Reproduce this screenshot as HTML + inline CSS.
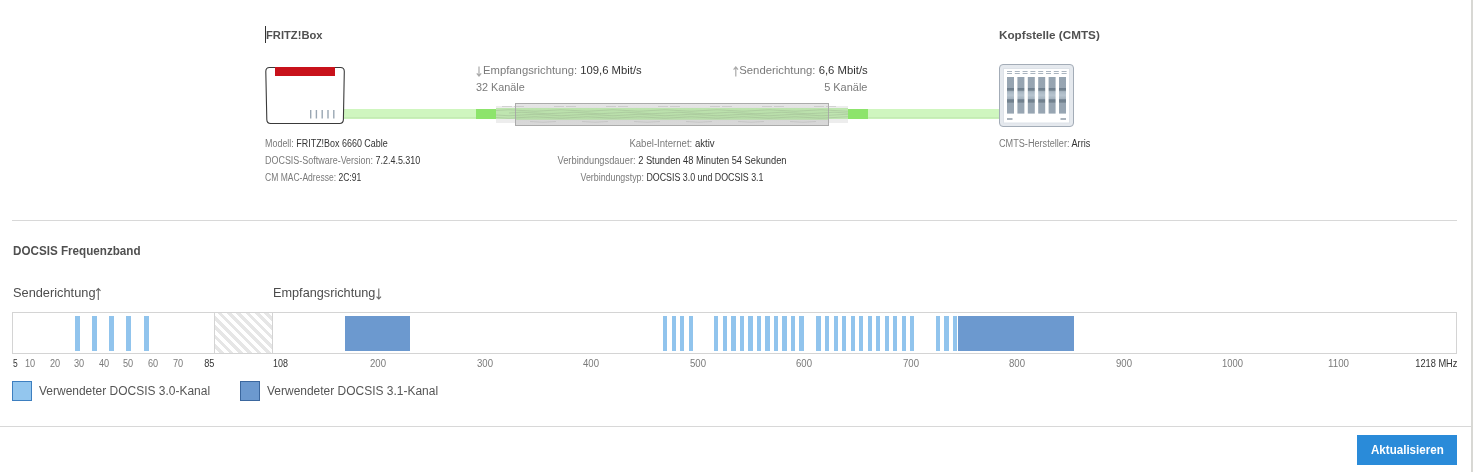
<!DOCTYPE html>
<html><head><meta charset="utf-8">
<style>
html,body{margin:0;padding:0;background:#fff;width:1473px;height:472px;overflow:hidden;position:relative;font-family:"Liberation Sans",sans-serif;color:#555;}
.a{position:absolute;white-space:nowrap;line-height:1;-webkit-font-smoothing:antialiased;}
body{will-change:transform;}
</style></head>
<body>
<svg class="a" style="left:0;top:0" width="1473" height="140" viewBox="0 0 1473 140">
<defs>
<linearGradient id="cg" x1="0" y1="0" x2="0" y2="1">
<stop offset="0" stop-color="#e6e6e6"/><stop offset="0.2" stop-color="#e2e2e2"/><stop offset="0.22" stop-color="#bde3ae"/><stop offset="0.72" stop-color="#b7dca8"/><stop offset="0.75" stop-color="#d6d6d6"/><stop offset="1" stop-color="#d9d9d9"/>
</linearGradient>
<linearGradient id="cb" x1="0" y1="0" x2="0" y2="1">
<stop offset="0" stop-color="#96a4b1"/><stop offset="0.29" stop-color="#97a5b2"/><stop offset="0.31" stop-color="#6f7f8e"/><stop offset="0.36" stop-color="#74838f"/><stop offset="0.4" stop-color="#a9b7c3"/><stop offset="0.5" stop-color="#b7c4cf"/><stop offset="0.6" stop-color="#a3b1bd"/><stop offset="0.62" stop-color="#6f7f8e"/><stop offset="0.69" stop-color="#74838f"/><stop offset="0.71" stop-color="#97a5b2"/><stop offset="1" stop-color="#97a5b2"/>
</linearGradient>
</defs>
<rect x="344" y="109" width="132" height="10" fill="#cff6bf"/>
<rect x="344" y="117" width="132" height="1.5" fill="#c4ebb4"/>
<rect x="476" y="109" width="20" height="10" fill="#8de46c"/>
<rect x="848" y="109" width="20" height="10" fill="#8de46c"/>
<rect x="868" y="109" width="132" height="10" fill="#cff6bf"/>
<rect x="868" y="117" width="132" height="1.5" fill="#c4ebb4"/>
<rect x="496" y="106" width="352" height="17" fill="#ededed"/>
<rect x="496" y="108" width="352" height="11" fill="#bfe5b0"/>
<rect x="515.5" y="103.5" width="313" height="22" fill="url(#cg)" stroke="#ababab" stroke-width="1"/>
<clipPath id="cc"><rect x="496" y="103" width="352" height="23"/></clipPath>
<g clip-path="url(#cc)">
<g fill="none" stroke="#9cb391" stroke-width="0.8" opacity="0.55">
<path d="M496 110.5 q13 -1.5 26 0 t26 0 t26 0 t26 0 t26 0 t26 0 t26 0 t26 0 t26 0 t26 0 t26 0 t26 0 t26 0 t26 0"/>
<path d="M496 117.5 q13 1.5 26 0 t26 0 t26 0 t26 0 t26 0 t26 0 t26 0 t26 0 t26 0 t26 0 t26 0 t26 0 t26 0 t26 0"/>
<path d="M509 113 q13 -1.5 26 0 t26 0 t26 0 t26 0 t26 0 t26 0 t26 0 t26 0 t26 0 t26 0 t26 0 t26 0 t26 0 t13 0"/>
<path d="M496 115 q13 1.5 26 0 t26 0 t26 0 t26 0 t26 0 t26 0 t26 0 t26 0 t26 0 t26 0 t26 0 t26 0 t26 0 t26 0"/>
</g>
<g fill="none" stroke="#b4b4b4" stroke-width="0.8" opacity="0.6">
<path d="M502 106.5 h10 M514 106.5 h10 M554 106.5 h10 M566 106.5 h10 M606 106.5 h10 M618 106.5 h10 M658 106.5 h10 M670 106.5 h10 M710 106.5 h10 M722 106.5 h10 M762 106.5 h10 M774 106.5 h10 M814 106.5 h10 M826 106.5 h10"/>
<path d="M530 121.5 q13 1.5 26 0 M582 121.5 q13 1.5 26 0 M634 121.5 q13 1.5 26 0 M686 121.5 q13 1.5 26 0 M738 121.5 q13 1.5 26 0 M790 121.5 q13 1.5 26 0"/>
</g>
</g>
<path d="M269.5 67.5 H340.5 Q344.3 67.5 344.3 71.5 L343.4 119.5 Q343.3 123.5 339.5 123.5 H270.7 Q266.9 123.5 266.8 119.5 L265.8 71.5 Q265.8 67.5 269.5 67.5 Z" fill="#fff" stroke="#3a3a3a" stroke-width="1.1"/>
<rect x="275" y="67" width="60" height="9" fill="#c8121b"/>
<path d="M310.7 110 V118.5 M316.4 110 V118.5 M322.2 110 V118.5 M328 110 V118.5 M333.8 110 V118.5" stroke="#9aa7b3" stroke-width="1.4"/>
<rect x="999.5" y="64.5" width="74" height="62" rx="3.5" fill="#e5e9ee" stroke="#a3acb7" stroke-width="1"/>
<rect x="1003.5" y="68.5" width="66" height="54.5" fill="#fff" stroke="#dde2e8" stroke-width="1"/>
<g stroke="#a9b4bf" stroke-width="1">
<path d="M1007 71.5 h5 M1014.8 71.5 h5 M1022.6 71.5 h5 M1030.4 71.5 h5 M1038.2 71.5 h5 M1046 71.5 h5 M1053.8 71.5 h5 M1061.6 71.5 h5"/>
<path d="M1007 73.5 h5 M1014.8 73.5 h5 M1022.6 73.5 h5 M1030.4 73.5 h5 M1038.2 73.5 h5 M1046 73.5 h5 M1053.8 73.5 h5 M1061.6 73.5 h5"/>
</g>
<g fill="url(#cb)">
<rect x="1007" y="77" width="7" height="36.6"/>
<rect x="1017.4" y="77" width="7" height="36.6"/>
<rect x="1027.8" y="77" width="7" height="36.6"/>
<rect x="1038.2" y="77" width="7" height="36.6"/>
<rect x="1048.6" y="77" width="7" height="36.6"/>
<rect x="1059" y="77" width="7" height="36.6"/>
</g>
<path d="M1007 119 h5.5 M1060.5 119 h5.5" stroke="#8e9aa6" stroke-width="1.3"/>
</svg>

<div class="a" style="left:265px;top:26px;width:1px;height:17px;background:#333"></div>
<svg class="a" style="left:0;top:0" width="1473" height="310"><g stroke="#aaa" fill="none" stroke-width="1.2"><path d="M479 66.5 V76 M476.8 73.3 L479 76 L481.2 73.3"/><path d="M735.8 76.5 V67 M733.6 69.7 L735.8 67 L738 69.7"/></g><g stroke="#666" fill="none" stroke-width="1.1"><path d="M98.3 300 V288.5 M96.1 290.9 L98.3 288.5 L100.5 290.9"/><path d="M378.8 288.5 V299 M376.6 296.6 L378.8 299 L381 296.6"/></g></svg>
<div class="a" style="left:12px;top:220px;width:1445px;height:1px;background:#d8d8d8"></div>
<div class="a" style="left:0px;top:426px;width:1471px;height:1px;background:#d8d8d8"></div>
<div class="a" style="left:12px;top:312px;width:1443px;height:40px;border:1px solid #d4d4d4"></div>
<div class="a" style="left:214px;top:313px;width:57px;height:40px;border-left:1px solid #d4d4d4;border-right:1px solid #d4d4d4;background:repeating-linear-gradient(45deg,#fff 0 3.3px,#e6e6e6 3.3px 6.6px)"></div>
<div class="a" style="left:75px;top:316px;width:5px;height:35px;background:#91c4ed"></div>
<div class="a" style="left:92px;top:316px;width:5px;height:35px;background:#91c4ed"></div>
<div class="a" style="left:109px;top:316px;width:5px;height:35px;background:#91c4ed"></div>
<div class="a" style="left:126px;top:316px;width:5px;height:35px;background:#91c4ed"></div>
<div class="a" style="left:144px;top:316px;width:5px;height:35px;background:#91c4ed"></div>
<div class="a" style="left:663px;top:316px;width:4px;height:35px;background:#91c4ed"></div>
<div class="a" style="left:672px;top:316px;width:4px;height:35px;background:#91c4ed"></div>
<div class="a" style="left:680px;top:316px;width:4px;height:35px;background:#91c4ed"></div>
<div class="a" style="left:689px;top:316px;width:4px;height:35px;background:#91c4ed"></div>
<div class="a" style="left:714px;top:316px;width:4px;height:35px;background:#91c4ed"></div>
<div class="a" style="left:723px;top:316px;width:4px;height:35px;background:#91c4ed"></div>
<div class="a" style="left:731px;top:316px;width:5px;height:35px;background:#91c4ed"></div>
<div class="a" style="left:740px;top:316px;width:4px;height:35px;background:#91c4ed"></div>
<div class="a" style="left:748px;top:316px;width:5px;height:35px;background:#91c4ed"></div>
<div class="a" style="left:757px;top:316px;width:4px;height:35px;background:#91c4ed"></div>
<div class="a" style="left:765px;top:316px;width:5px;height:35px;background:#91c4ed"></div>
<div class="a" style="left:774px;top:316px;width:4px;height:35px;background:#91c4ed"></div>
<div class="a" style="left:782px;top:316px;width:5px;height:35px;background:#91c4ed"></div>
<div class="a" style="left:791px;top:316px;width:4px;height:35px;background:#91c4ed"></div>
<div class="a" style="left:799px;top:316px;width:5px;height:35px;background:#91c4ed"></div>
<div class="a" style="left:816px;top:316px;width:5px;height:35px;background:#91c4ed"></div>
<div class="a" style="left:825px;top:316px;width:4px;height:35px;background:#91c4ed"></div>
<div class="a" style="left:834px;top:316px;width:4px;height:35px;background:#91c4ed"></div>
<div class="a" style="left:842px;top:316px;width:4px;height:35px;background:#91c4ed"></div>
<div class="a" style="left:851px;top:316px;width:4px;height:35px;background:#91c4ed"></div>
<div class="a" style="left:859px;top:316px;width:4px;height:35px;background:#91c4ed"></div>
<div class="a" style="left:868px;top:316px;width:4px;height:35px;background:#91c4ed"></div>
<div class="a" style="left:876px;top:316px;width:4px;height:35px;background:#91c4ed"></div>
<div class="a" style="left:885px;top:316px;width:4px;height:35px;background:#91c4ed"></div>
<div class="a" style="left:893px;top:316px;width:4px;height:35px;background:#91c4ed"></div>
<div class="a" style="left:902px;top:316px;width:4px;height:35px;background:#91c4ed"></div>
<div class="a" style="left:910px;top:316px;width:4px;height:35px;background:#91c4ed"></div>
<div class="a" style="left:936px;top:316px;width:4px;height:35px;background:#91c4ed"></div>
<div class="a" style="left:944px;top:316px;width:5px;height:35px;background:#91c4ed"></div>
<div class="a" style="left:953px;top:316px;width:4px;height:35px;background:#91c4ed"></div>
<div class="a" style="left:345px;top:316px;width:65px;height:35px;background:#6c99cf"></div>
<div class="a" style="left:958px;top:316px;width:116px;height:35px;background:#6c99cf"></div>
<div class="a" style="left:12px;top:381px;width:18px;height:18px;border:1px solid #3d7fc0;background:#93c6ee"></div>
<div class="a" style="left:240px;top:381px;width:18px;height:18px;border:1px solid #3b679e;background:#6c99cf"></div>
<div class="a" style="left:1357px;top:435px;width:100px;height:30px;background:#2a8bd9"></div>
<div class="a" style="left:1471px;top:0;width:2px;height:472px;background:#d8d8d4"></div>
<div class="a" id="tx0" style="top:29.18px;font-size:11.6px;color:#505050;font-weight:700;left:266px;transform-origin:0 0;transform:scaleX(0.9640);">FRITZ!Box</div>
<div class="a" id="tx1" style="top:29.18px;font-size:11.6px;color:#505050;font-weight:700;left:998.7px;transform-origin:0 0;transform:scaleX(1.0096);">Kopfstelle (CMTS)</div>
<div class="a" id="tx2" style="top:64.69px;font-size:11.0px;color:#7a7a7a;left:482.7px;transform-origin:0 0;transform:scaleX(1.0258);">Empfangsrichtung: <span style="color:#333">109,6 Mbit/s</span></div>
<div class="a" id="tx3" style="top:81.69px;font-size:11.0px;color:#7a7a7a;left:476.2px;transform-origin:0 0;transform:scaleX(0.9849);">32 Kanäle</div>
<div class="a" id="tx4" style="top:64.69px;font-size:11.0px;color:#7a7a7a;right:605.30px;transform-origin:100% 0;transform:scaleX(1.0301);">Senderichtung: <span style="color:#333">6,6 Mbit/s</span></div>
<div class="a" id="tx5" style="top:81.69px;font-size:11.0px;color:#7a7a7a;right:605.30px;transform-origin:100% 0;transform:scaleX(0.9968);">5 Kanäle</div>
<div class="a" id="tx6" style="top:138.53px;font-size:10.0px;color:#7a7a7a;left:265px;transform-origin:0 0;transform:scaleX(0.8938);">Modell: <span style="color:#333">FRITZ!Box 6660 Cable</span></div>
<div class="a" id="tx7" style="top:155.53px;font-size:10.0px;color:#7a7a7a;left:265px;transform-origin:0 0;transform:scaleX(0.8955);">DOCSIS-Software-Version: <span style="color:#333">7.2.4.5.310</span></div>
<div class="a" id="tx8" style="top:172.53px;font-size:10.0px;color:#7a7a7a;left:265px;transform-origin:0 0;transform:scaleX(0.8527);">CM MAC-Adresse: <span style="color:#333">2C:91</span></div>
<div class="a" id="tx9" style="top:138.53px;font-size:10.0px;color:#7a7a7a;left:672.1px;transform-origin:0 0;transform:translateX(-50%) scaleX(0.9580);transform-origin:50% 0;">Kabel-Internet: <span style="color:#333">aktiv</span></div>
<div class="a" id="tx10" style="top:155.53px;font-size:10.0px;color:#7a7a7a;left:671.5px;transform-origin:0 0;transform:translateX(-50%) scaleX(0.9297);transform-origin:50% 0;">Verbindungsdauer: <span style="color:#333">2 Stunden 48 Minuten 54 Sekunden</span></div>
<div class="a" id="tx11" style="top:172.53px;font-size:10.0px;color:#7a7a7a;left:671.5px;transform-origin:0 0;transform:translateX(-50%) scaleX(0.8850);transform-origin:50% 0;">Verbindungstyp: <span style="color:#333">DOCSIS 3.0 und DOCSIS 3.1</span></div>
<div class="a" id="tx12" style="top:138.53px;font-size:10.0px;color:#7a7a7a;left:998.7px;transform-origin:0 0;transform:scaleX(0.9129);">CMTS-Hersteller: <span style="color:#333">Arris</span></div>
<div class="a" id="tx13" style="top:243.91px;font-size:13.1px;color:#505050;font-weight:700;left:12.8px;transform-origin:0 0;transform:scaleX(0.8903);">DOCSIS Frequenzband</div>
<div class="a" id="tx14" style="top:286.49px;font-size:13.6px;color:#4d4d4d;left:12.75px;transform-origin:0 0;transform:scaleX(0.9410);">Senderichtung</div>
<div class="a" id="tx15" style="top:286.49px;font-size:13.6px;color:#4d4d4d;left:273px;transform-origin:0 0;transform:scaleX(0.9345);">Empfangsrichtung</div>
<div class="a" id="tx16" style="top:358.97px;font-size:10.2px;color:#333;left:12.6px;transform-origin:0 0;transform:scaleX(0.8287);">5</div>
<div class="a" id="tx17" style="top:358.97px;font-size:10.2px;color:#7a7a7a;left:24.8px;transform-origin:0 0;transform:scaleX(0.8992);">10</div>
<div class="a" id="tx18" style="top:358.97px;font-size:10.2px;color:#7a7a7a;left:49.5px;transform-origin:0 0;transform:scaleX(0.8992);">20</div>
<div class="a" id="tx19" style="top:358.97px;font-size:10.2px;color:#7a7a7a;left:73.7px;transform-origin:0 0;transform:scaleX(0.8992);">30</div>
<div class="a" id="tx20" style="top:358.97px;font-size:10.2px;color:#7a7a7a;left:98.6px;transform-origin:0 0;transform:scaleX(0.8992);">40</div>
<div class="a" id="tx21" style="top:358.97px;font-size:10.2px;color:#7a7a7a;left:123.2px;transform-origin:0 0;transform:scaleX(0.8992);">50</div>
<div class="a" id="tx22" style="top:358.97px;font-size:10.2px;color:#7a7a7a;left:147.7px;transform-origin:0 0;transform:scaleX(0.8992);">60</div>
<div class="a" id="tx23" style="top:358.97px;font-size:10.2px;color:#7a7a7a;left:172.5px;transform-origin:0 0;transform:scaleX(0.8992);">70</div>
<div class="a" id="tx24" style="top:358.97px;font-size:10.2px;color:#333;left:272.9px;transform-origin:0 0;transform:scaleX(0.8765);">108</div>
<div class="a" id="tx25" style="top:358.97px;font-size:10.2px;color:#7a7a7a;left:370.3px;transform-origin:0 0;transform:scaleX(0.9412);">200</div>
<div class="a" id="tx26" style="top:358.97px;font-size:10.2px;color:#7a7a7a;left:476.8px;transform-origin:0 0;transform:scaleX(0.9412);">300</div>
<div class="a" id="tx27" style="top:358.97px;font-size:10.2px;color:#7a7a7a;left:583.2px;transform-origin:0 0;transform:scaleX(0.9412);">400</div>
<div class="a" id="tx28" style="top:358.97px;font-size:10.2px;color:#7a7a7a;left:689.7px;transform-origin:0 0;transform:scaleX(0.9412);">500</div>
<div class="a" id="tx29" style="top:358.97px;font-size:10.2px;color:#7a7a7a;left:796.1px;transform-origin:0 0;transform:scaleX(0.9412);">600</div>
<div class="a" id="tx30" style="top:358.97px;font-size:10.2px;color:#7a7a7a;left:902.5px;transform-origin:0 0;transform:scaleX(0.9412);">700</div>
<div class="a" id="tx31" style="top:358.97px;font-size:10.2px;color:#7a7a7a;left:1009.0px;transform-origin:0 0;transform:scaleX(0.9412);">800</div>
<div class="a" id="tx32" style="top:358.97px;font-size:10.2px;color:#7a7a7a;left:1115.5px;transform-origin:0 0;transform:scaleX(0.9412);">900</div>
<div class="a" id="tx33" style="top:358.97px;font-size:10.2px;color:#7a7a7a;left:1221.9px;transform-origin:0 0;transform:scaleX(0.9263);">1000</div>
<div class="a" id="tx34" style="top:358.97px;font-size:10.2px;color:#7a7a7a;left:1328.3px;transform-origin:0 0;transform:scaleX(0.9586);">1100</div>
<div class="a" id="tx35" style="top:358.97px;font-size:10.2px;color:#333;right:1258.50px;transform-origin:100% 0;transform:scaleX(0.8992);">85</div>
<div class="a" id="tx36" style="top:358.97px;font-size:10.2px;color:#333;right:16.00px;transform-origin:100% 0;transform:scaleX(0.9087);">1218 MHz</div>
<div class="a" id="tx37" style="top:384.59px;font-size:12.3px;color:#555;left:38.7px;transform-origin:0 0;transform:scaleX(0.9740);">Verwendeter DOCSIS 3.0-Kanal</div>
<div class="a" id="tx38" style="top:384.59px;font-size:12.3px;color:#555;left:266.5px;transform-origin:0 0;transform:scaleX(0.9740);">Verwendeter DOCSIS 3.1-Kanal</div>
<div class="a" id="tx39" style="top:442.91px;font-size:13.1px;color:#fff;font-weight:700;left:1370.5px;transform-origin:0 0;transform:scaleX(0.8841);">Aktualisieren</div>
</body></html>
